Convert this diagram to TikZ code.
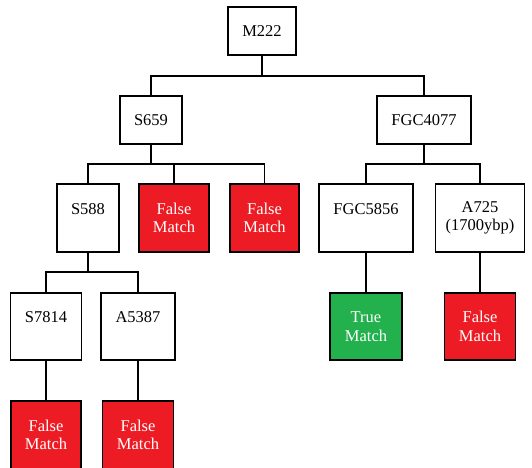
\documentclass[tikz,border=0pt]{standalone}
\usepackage{fontspec}
\setmainfont{Liberation Serif}
\definecolor{fred}{HTML}{ED1C24}
\definecolor{tgreen}{HTML}{22B14C}
\tikzset{
  box/.style={draw=black, line width=1.7pt, rectangle, inner sep=0pt, align=center,
    font=\fontsize{16.5}{18.5}\selectfont, fill=white},
  redbox/.style={box, fill=fred, text=white},
  greenbox/.style={box, fill=tgreen, text=white},
  conn/.style={draw=black, line width=1.7pt},
}
\begin{document}
\begin{tikzpicture}[x=1pt, y=-1pt]
\useasboundingbox (0,0) rectangle (532,467);
\clip (0,0) rectangle (532,467);
% row 1
\node[box, minimum width=68pt, minimum height=48pt] (m222) at (262,31) {M222};
% row 2
\node[box, minimum width=62pt, minimum height=48pt] (s659) at (151,120) {S659};
\node[box, minimum width=94pt, minimum height=48pt] (fgc4077) at (424,120) {FGC4077};
% row 3
\node[box, minimum width=62pt, minimum height=68pt] (s588) at (88,218) {S588\\\phantom{M}};
\node[redbox, minimum width=70pt, minimum height=68pt] (f1) at (174,218) {False\\Match};
\node[redbox, minimum width=69pt, minimum height=68pt] (f2) at (264.5,218) {False\\Match};
\node[box, minimum width=94pt, minimum height=68pt] (fgc5856) at (366,218) {FGC5856\\\phantom{M}};
\node[box, minimum width=89pt, minimum height=68pt] (a725) at (480,218) {A725\\(1700ybp)};
% row 4
\node[box, minimum width=71pt, minimum height=67pt] (s7814) at (46,326.5) {S7814\\\phantom{M}};
\node[box, minimum width=74pt, minimum height=67pt] (a5387) at (138,326.5) {A5387\\\phantom{M}};
\node[greenbox, minimum width=72pt, minimum height=67pt] (tm) at (366,326.5) {True\\Match};
\node[redbox, minimum width=71pt, minimum height=67pt] (fa) at (480,326.5) {False\\Match};
% row 5
\node[redbox, minimum width=70pt, minimum height=68pt] (fs) at (46,435) {False\\Match};
\node[redbox, minimum width=71pt, minimum height=68pt] (fb) at (138,435) {False\\Match};
% junctions
\coordinate (j1) at (262,76);
\coordinate (j2) at (151,164);
\coordinate (j3) at (424,164);
\coordinate (j4) at (88,272);
% connectors
\draw[conn] (m222.south) -- (j1);
\draw[conn] (j1) -| (s659.north);
\draw[conn] (j1) -| (fgc4077.north);
\draw[conn] (s659.south) -- (j2);
\draw[conn] (j2) -| (s588.north);
\draw[conn] (j2) -| (f1.north);
\draw[conn] (j2) -| (f2.north);
\draw[conn] (fgc4077.south) -- (j3);
\draw[conn] (j3) -| (fgc5856.north);
\draw[conn] (j3) -| (a725.north);
\draw[conn] (s588.south) -- (j4);
\draw[conn] (j4) -| (s7814.north);
\draw[conn] (j4) -| (a5387.north);
\draw[conn] (s7814.south) -- (fs.north);
\draw[conn] (a5387.south) -- (fb.north);
\draw[conn] (fgc5856.south) -- (tm.north);
\draw[conn] (a725.south) -- (fa.north);
\end{tikzpicture}
\end{document}
